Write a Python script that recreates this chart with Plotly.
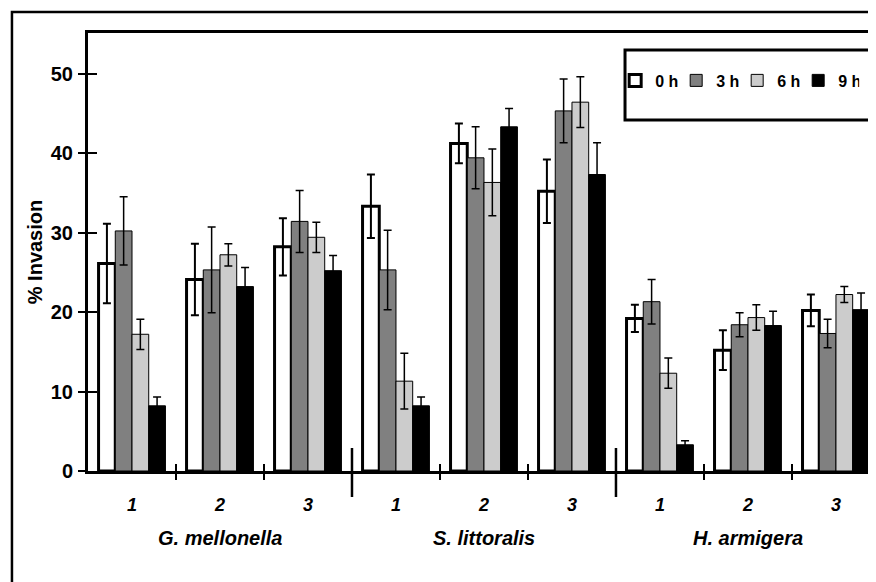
import plotly.graph_objects as go

# ---- data ----
groups = ["G. mellonella", "S. littoralis", "H. armigera"]
samples = ["1", "2", "3"]
series_names = ["0 h", "3 h", "6 h", "9 h"]

vals_0h = [26.1, 24.1, 28.2, 33.3, 41.2, 35.2, 19.2, 15.2, 20.2]
err_0h = [5.0, 4.5, 3.6, 4.0, 2.5, 4.0, 1.7, 2.5, 2.0]
vals_3h = [30.2, 25.3, 31.4, 25.3, 39.4, 45.3, 21.3, 18.4, 17.3]
err_3h = [4.3, 5.4, 3.9, 5.0, 3.9, 4.0, 2.8, 1.5, 1.8]
vals_6h = [17.2, 27.2, 29.4, 11.3, 36.3, 46.4, 12.3, 19.3, 22.2]
err_6h = [1.9, 1.4, 1.9, 3.5, 4.2, 3.2, 1.9, 1.6, 1.0]
vals_9h = [8.2, 23.2, 25.2, 8.2, 43.3, 37.3, 3.3, 18.3, 20.3]
err_9h = [1.1, 2.4, 1.9, 1.1, 2.3, 4.0, 0.5, 1.8, 2.1]

y_ticks = [0, 10, 20, 30, 40, 50]

# ---- derived positions ----
n_cat = len(groups) * len(samples)
xpos = list(range(n_cat))
cat_labels = [s for g in groups for s in samples]
boundaries = [i + 0.5 for i in range(n_cat)]
group_seps = [len(samples) * (k + 1) - 0.5 for k in range(len(groups) - 1)]
group_centers = [len(samples) * k + (len(samples) - 1) / 2 for k in range(len(groups))]

FONT = "Liberation Sans, Arial, sans-serif"

fills = ["#ffffff", "#808080", "#cccccc", "#000000"]
outline_w = [3, 1, 1, 1]
err_th = [2, 1.5, 1.5, 1.5]
all_vals = [vals_0h, vals_3h, vals_6h, vals_9h]
all_errs = [err_0h, err_3h, err_6h, err_9h]

fig = go.Figure()
for name, v, e, c, lw, et in zip(series_names, all_vals, all_errs, fills, outline_w, err_th):
    fig.add_trace(go.Bar(
        x=xpos, y=v, name=name,
        marker=dict(color=c, line=dict(color="black", width=lw)),
        error_y=dict(type="data", array=e, visible=True, color="black",
                     thickness=et, width=4),
    ))

# invisible helper traces so the overlaid tick-only axes get drawn
for xa, ya in [("x2", "y"), ("x3", "y"), ("x", "y2")]:
    fig.add_trace(go.Scatter(x=xpos, y=vals_0h, xaxis=xa, yaxis=ya, mode="markers",
                             marker=dict(opacity=0, size=1), showlegend=False,
                             hoverinfo="skip"))

shapes = []
# outer frame
shapes.append(dict(type="rect", xref="paper", yref="paper",
                   x0=-0.0965, x1=1.05, y0=-0.4, y1=1.048,
                   line=dict(color="black", width=2.5), fillcolor="rgba(0,0,0,0)", layer="above"))
# legend frame
shapes.append(dict(type="rect", xref="paper", yref="paper",
                   x0=0.6815, x1=1.05, y0=0.8014, y1=0.9612,
                   line=dict(color="black", width=3), fillcolor="rgba(0,0,0,0)", layer="above"))
# group separators
for s in group_seps:
    shapes.append(dict(type="line", xref="x", yref="paper", x0=s, x1=s,
                       y0=-0.0594, y1=0.0525, line=dict(color="black", width=2.5)))

annotations = []
for g, gc in zip(groups, group_centers):
    annotations.append(dict(text=g, xref="x", yref="paper", x=gc, y=-0.153,
                            showarrow=False, xanchor="center", yanchor="middle",
                            font=dict(family=FONT, size=20, color="black",
                                      weight="bold", style="italic")))

XR = [-0.5, 8.455]
YR = [0, 55.1]

fig.update_layout(
    width=868, height=574,
    margin=dict(l=80, r=0, t=25, b=111, autoexpand=False),
    paper_bgcolor="white", plot_bgcolor="white",
    barmode="group", bargap=0.24, bargroupgap=0,
    showlegend=True,
    legend=dict(orientation="h", x=0.669, xanchor="left", y=0.8916, yanchor="middle",
                bgcolor="rgba(0,0,0,0)", borderwidth=0, itemwidth=30,
                entrywidth=16, entrywidthmode="pixels",
                font=dict(family=FONT, size=16, color="black", weight="bold"),
                traceorder="normal", itemclick=False),
    shapes=shapes,
    annotations=annotations,
    xaxis=dict(range=XR, tickvals=xpos, ticktext=cat_labels, ticks="",
               showline=True, linecolor="black", linewidth=3, mirror=True,
               showgrid=False, zeroline=False, ticklabelstandoff=15,
               tickfont=dict(family=FONT, size=18, color="black", weight="bold", style="italic")),
    xaxis2=dict(overlaying="x", anchor="y", side="bottom", range=XR,
                tickvals=boundaries, ticks="outside", ticklen=8, tickwidth=2, tickcolor="black",
                showticklabels=False, showgrid=False, zeroline=False, showline=False),
    xaxis3=dict(overlaying="x", anchor="y", side="bottom", range=XR,
                tickvals=boundaries, ticks="inside", ticklen=7, tickwidth=2, tickcolor="black",
                showticklabels=False, showgrid=False, zeroline=False, showline=False),
    yaxis=dict(range=YR, tickvals=y_ticks, ticks="outside", ticklen=7, tickwidth=2,
               tickcolor="black", showline=True, linecolor="black", linewidth=3,
               showgrid=False, zeroline=False, ticklabelstandoff=1,
               tickfont=dict(family=FONT, size=20, color="black", weight="bold"),
               title=dict(text="% Invasion", standoff=3,
                          font=dict(family=FONT, size=20, color="black", weight="bold"))),
    yaxis2=dict(overlaying="y", anchor="x", side="left", range=YR, tickvals=y_ticks,
                ticks="inside", ticklen=9, tickwidth=2, tickcolor="black",
                showticklabels=False, showgrid=False, zeroline=False, showline=False),
)

fig.write_html("out.html")
